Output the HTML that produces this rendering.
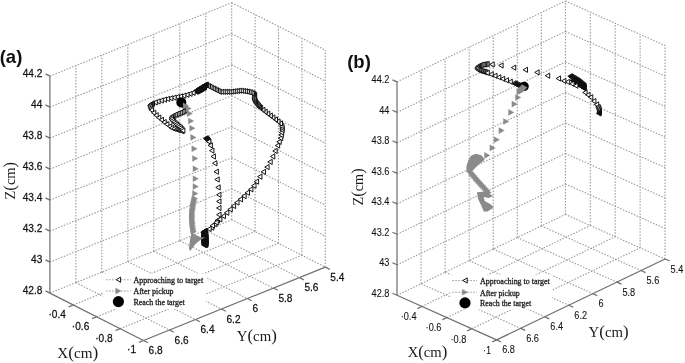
<!DOCTYPE html>
<html><head><meta charset="utf-8"><title>Trajectory plots</title>
<style>html,body{margin:0;padding:0;background:#fff;width:685px;height:363px;overflow:hidden}svg{display:block;filter:blur(0.3px)}</style>
</head><body>
<svg width="685" height="363" viewBox="0 0 685 363">
<style>.g{stroke:#9a9a9a;stroke-width:1.1;stroke-dasharray:1.5 1.5;fill:none}.a{stroke:#6e6e6e;stroke-width:1.2;fill:none}.ap{fill:#fff;stroke:#0a0a0a;stroke-width:0.95;stroke-linejoin:miter}.pk{fill:#8a8a8a;stroke:#8a8a8a;stroke-width:0.3}.t{font-family:"Liberation Sans",sans-serif;fill:#111;stroke:#111}.s{font-family:"Liberation Serif",serif;font-size:15.3px;fill:#1a1a1a}.lg{font-family:"Liberation Serif",serif;font-size:8.6px;fill:#1a1a1a;stroke:#1a1a1a;stroke-width:0.3px}.pp{font-size:17.5px}.lab{font-family:"Liberation Sans",sans-serif;font-size:18.5px;font-weight:bold;fill:#111}</style>
<defs><path id="tl" class="ap" d="M-2.2 0L2.2 -2.6L2.2 2.6Z"/><path id="tr" class="pk" d="M2.75 0L-2.75 -3.05L-2.75 3.05Z"/><path id="tb" d="M-2.2 0L2.2 -2.6L2.2 2.6Z" fill="#111" stroke="#111" stroke-width="0.7"/></defs>
<line x1="75.87" y1="282.61" x2="75.87" y2="65.61" class="g"/>
<line x1="101.84" y1="272.13" x2="101.84" y2="55.13" class="g"/>
<line x1="127.81" y1="261.64" x2="127.81" y2="44.64" class="g"/>
<line x1="153.78" y1="251.16" x2="153.78" y2="34.16" class="g"/>
<line x1="179.75" y1="240.67" x2="179.75" y2="23.67" class="g"/>
<line x1="205.72" y1="230.18" x2="205.72" y2="13.18" class="g"/>
<line x1="231.69" y1="219.7" x2="231.69" y2="2.7" class="g"/>
<line x1="49.9" y1="293.1" x2="231.69" y2="219.7" class="g"/>
<line x1="49.9" y1="262.1" x2="231.69" y2="188.7" class="g"/>
<line x1="49.9" y1="231.1" x2="231.69" y2="157.7" class="g"/>
<line x1="49.9" y1="200.1" x2="231.69" y2="126.7" class="g"/>
<line x1="49.9" y1="169.1" x2="231.69" y2="95.7" class="g"/>
<line x1="49.9" y1="138.1" x2="231.69" y2="64.7" class="g"/>
<line x1="49.9" y1="107.1" x2="231.69" y2="33.7" class="g"/>
<line x1="49.9" y1="76.1" x2="231.69" y2="2.7" class="g"/>
<line x1="255.09" y1="231.55" x2="255.09" y2="14.55" class="g"/>
<line x1="278.49" y1="243.4" x2="278.49" y2="26.4" class="g"/>
<line x1="301.89" y1="255.25" x2="301.89" y2="38.25" class="g"/>
<line x1="325.29" y1="267.1" x2="325.29" y2="50.1" class="g"/>
<line x1="231.69" y1="219.7" x2="325.29" y2="267.1" class="g"/>
<line x1="231.69" y1="188.7" x2="325.29" y2="236.1" class="g"/>
<line x1="231.69" y1="157.7" x2="325.29" y2="205.1" class="g"/>
<line x1="231.69" y1="126.7" x2="325.29" y2="174.1" class="g"/>
<line x1="231.69" y1="95.7" x2="325.29" y2="143.1" class="g"/>
<line x1="231.69" y1="64.7" x2="325.29" y2="112.1" class="g"/>
<line x1="231.69" y1="33.7" x2="325.29" y2="81.1" class="g"/>
<line x1="231.69" y1="2.7" x2="325.29" y2="50.1" class="g"/>
<line x1="73.3" y1="304.95" x2="255.09" y2="231.55" class="g"/>
<line x1="96.7" y1="316.8" x2="278.49" y2="243.4" class="g"/>
<line x1="120.1" y1="328.65" x2="301.89" y2="255.25" class="g"/>
<line x1="75.87" y1="282.61" x2="169.47" y2="330.01" class="g"/>
<line x1="101.84" y1="272.13" x2="195.44" y2="319.53" class="g"/>
<line x1="127.81" y1="261.64" x2="221.41" y2="309.04" class="g"/>
<line x1="153.78" y1="251.16" x2="247.38" y2="298.56" class="g"/>
<line x1="179.75" y1="240.67" x2="273.35" y2="288.07" class="g"/>
<line x1="205.72" y1="230.18" x2="299.32" y2="277.58" class="g"/>
<line x1="49.9" y1="293.1" x2="49.9" y2="76.1" class="a"/>
<line x1="49.9" y1="293.1" x2="143.5" y2="340.5" class="a"/>
<line x1="143.5" y1="340.5" x2="325.29" y2="267.1" class="a"/>
<line x1="49.9" y1="293.1" x2="45.44" y2="290.84" class="a"/>
<line x1="49.9" y1="262.1" x2="45.44" y2="259.84" class="a"/>
<line x1="49.9" y1="231.1" x2="45.44" y2="228.84" class="a"/>
<line x1="49.9" y1="200.1" x2="45.44" y2="197.84" class="a"/>
<line x1="49.9" y1="169.1" x2="45.44" y2="166.84" class="a"/>
<line x1="49.9" y1="138.1" x2="45.44" y2="135.84" class="a"/>
<line x1="49.9" y1="107.1" x2="45.44" y2="104.84" class="a"/>
<line x1="49.9" y1="76.1" x2="45.44" y2="73.84" class="a"/>
<line x1="73.3" y1="304.95" x2="68.66" y2="306.82" class="a"/>
<line x1="96.7" y1="316.8" x2="92.06" y2="318.67" class="a"/>
<line x1="120.1" y1="328.65" x2="115.46" y2="330.52" class="a"/>
<line x1="143.5" y1="340.5" x2="138.86" y2="342.37" class="a"/>
<line x1="143.5" y1="340.5" x2="147.96" y2="342.76" class="a"/>
<line x1="169.47" y1="330.01" x2="173.93" y2="332.27" class="a"/>
<line x1="195.44" y1="319.53" x2="199.9" y2="321.79" class="a"/>
<line x1="221.41" y1="309.04" x2="225.87" y2="311.3" class="a"/>
<line x1="247.38" y1="298.56" x2="251.84" y2="300.81" class="a"/>
<line x1="273.35" y1="288.07" x2="277.81" y2="290.33" class="a"/>
<line x1="299.32" y1="277.58" x2="303.78" y2="279.84" class="a"/>
<line x1="325.29" y1="267.1" x2="329.75" y2="269.36" class="a"/>
<line x1="421.06" y1="283.74" x2="421.06" y2="70.31" class="g"/>
<line x1="445.12" y1="272.19" x2="445.12" y2="58.76" class="g"/>
<line x1="469.18" y1="260.63" x2="469.18" y2="47.2" class="g"/>
<line x1="493.24" y1="249.07" x2="493.24" y2="35.64" class="g"/>
<line x1="517.3" y1="237.52" x2="517.3" y2="24.09" class="g"/>
<line x1="541.36" y1="225.96" x2="541.36" y2="12.53" class="g"/>
<line x1="565.42" y1="214.4" x2="565.42" y2="0.97" class="g"/>
<line x1="397" y1="295.3" x2="565.42" y2="214.4" class="g"/>
<line x1="397" y1="264.81" x2="565.42" y2="183.91" class="g"/>
<line x1="397" y1="234.32" x2="565.42" y2="153.42" class="g"/>
<line x1="397" y1="203.83" x2="565.42" y2="122.93" class="g"/>
<line x1="397" y1="173.34" x2="565.42" y2="92.44" class="g"/>
<line x1="397" y1="142.85" x2="565.42" y2="61.95" class="g"/>
<line x1="397" y1="112.36" x2="565.42" y2="31.46" class="g"/>
<line x1="397" y1="81.87" x2="565.42" y2="0.97" class="g"/>
<line x1="590.32" y1="225.55" x2="590.32" y2="12.12" class="g"/>
<line x1="615.22" y1="236.7" x2="615.22" y2="23.27" class="g"/>
<line x1="640.12" y1="247.85" x2="640.12" y2="34.42" class="g"/>
<line x1="665.02" y1="259" x2="665.02" y2="45.57" class="g"/>
<line x1="565.42" y1="214.4" x2="665.02" y2="259" class="g"/>
<line x1="565.42" y1="183.91" x2="665.02" y2="228.51" class="g"/>
<line x1="565.42" y1="153.42" x2="665.02" y2="198.02" class="g"/>
<line x1="565.42" y1="122.93" x2="665.02" y2="167.53" class="g"/>
<line x1="565.42" y1="92.44" x2="665.02" y2="137.04" class="g"/>
<line x1="565.42" y1="61.95" x2="665.02" y2="106.55" class="g"/>
<line x1="565.42" y1="31.46" x2="665.02" y2="76.06" class="g"/>
<line x1="565.42" y1="0.97" x2="665.02" y2="45.57" class="g"/>
<line x1="421.9" y1="306.45" x2="590.32" y2="225.55" class="g"/>
<line x1="446.8" y1="317.6" x2="615.22" y2="236.7" class="g"/>
<line x1="471.7" y1="328.75" x2="640.12" y2="247.85" class="g"/>
<line x1="421.06" y1="283.74" x2="520.66" y2="328.34" class="g"/>
<line x1="445.12" y1="272.19" x2="544.72" y2="316.79" class="g"/>
<line x1="469.18" y1="260.63" x2="568.78" y2="305.23" class="g"/>
<line x1="493.24" y1="249.07" x2="592.84" y2="293.67" class="g"/>
<line x1="517.3" y1="237.52" x2="616.9" y2="282.12" class="g"/>
<line x1="541.36" y1="225.96" x2="640.96" y2="270.56" class="g"/>
<line x1="397" y1="295.3" x2="397" y2="81.87" class="a"/>
<line x1="397" y1="295.3" x2="496.6" y2="339.9" class="a"/>
<line x1="496.6" y1="339.9" x2="665.02" y2="259" class="a"/>
<line x1="397" y1="295.3" x2="392.44" y2="293.26" class="a"/>
<line x1="397" y1="264.81" x2="392.44" y2="262.77" class="a"/>
<line x1="397" y1="234.32" x2="392.44" y2="232.28" class="a"/>
<line x1="397" y1="203.83" x2="392.44" y2="201.79" class="a"/>
<line x1="397" y1="173.34" x2="392.44" y2="171.3" class="a"/>
<line x1="397" y1="142.85" x2="392.44" y2="140.81" class="a"/>
<line x1="397" y1="112.36" x2="392.44" y2="110.32" class="a"/>
<line x1="397" y1="81.87" x2="392.44" y2="79.83" class="a"/>
<line x1="421.9" y1="306.45" x2="417.39" y2="308.61" class="a"/>
<line x1="446.8" y1="317.6" x2="442.29" y2="319.76" class="a"/>
<line x1="471.7" y1="328.75" x2="467.19" y2="330.91" class="a"/>
<line x1="496.6" y1="339.9" x2="492.09" y2="342.06" class="a"/>
<line x1="496.6" y1="339.9" x2="501.16" y2="341.94" class="a"/>
<line x1="520.66" y1="328.34" x2="525.22" y2="330.39" class="a"/>
<line x1="544.72" y1="316.79" x2="549.28" y2="318.83" class="a"/>
<line x1="568.78" y1="305.23" x2="573.34" y2="307.27" class="a"/>
<line x1="592.84" y1="293.67" x2="597.4" y2="295.72" class="a"/>
<line x1="616.9" y1="282.12" x2="621.46" y2="284.16" class="a"/>
<line x1="640.96" y1="270.56" x2="645.52" y2="272.6" class="a"/>
<line x1="665.02" y1="259" x2="669.58" y2="261.04" class="a"/>
<text class="t" font-size="11" stroke-width="0.25" transform="translate(42.34 293.84) scale(0.92 1)" text-anchor="end">42.8</text>
<text class="t" font-size="11" stroke-width="0.25" transform="translate(42.34 262.84) scale(0.92 1)" text-anchor="end">43</text>
<text class="t" font-size="11" stroke-width="0.25" transform="translate(42.34 231.84) scale(0.92 1)" text-anchor="end">43.2</text>
<text class="t" font-size="11" stroke-width="0.25" transform="translate(42.34 200.84) scale(0.92 1)" text-anchor="end">43.4</text>
<text class="t" font-size="11" stroke-width="0.25" transform="translate(42.34 169.84) scale(0.92 1)" text-anchor="end">43.6</text>
<text class="t" font-size="11" stroke-width="0.25" transform="translate(42.34 138.84) scale(0.92 1)" text-anchor="end">43.8</text>
<text class="t" font-size="11" stroke-width="0.25" transform="translate(42.34 107.84) scale(0.92 1)" text-anchor="end">44</text>
<text class="t" font-size="11" stroke-width="0.25" transform="translate(42.34 76.84) scale(0.92 1)" text-anchor="end">44.2</text>
<text class="t" font-size="10.2" stroke-width="0.08" transform="translate(389.44 296.66) scale(0.9 1)" text-anchor="end">42.8</text>
<text class="t" font-size="10.2" stroke-width="0.08" transform="translate(389.44 266.17) scale(0.9 1)" text-anchor="end">43</text>
<text class="t" font-size="10.2" stroke-width="0.08" transform="translate(389.44 235.68) scale(0.9 1)" text-anchor="end">43.2</text>
<text class="t" font-size="10.2" stroke-width="0.08" transform="translate(389.44 205.19) scale(0.9 1)" text-anchor="end">43.4</text>
<text class="t" font-size="10.2" stroke-width="0.08" transform="translate(389.44 174.7) scale(0.9 1)" text-anchor="end">43.6</text>
<text class="t" font-size="10.2" stroke-width="0.08" transform="translate(389.44 144.21) scale(0.9 1)" text-anchor="end">43.8</text>
<text class="t" font-size="10.2" stroke-width="0.08" transform="translate(389.44 113.72) scale(0.9 1)" text-anchor="end">44</text>
<text class="t" font-size="10.2" stroke-width="0.08" transform="translate(389.44 83.23) scale(0.9 1)" text-anchor="end">44.2</text>
<text class="t" font-size="11" stroke-width="0.25" transform="translate(65.86 317.82) scale(0.92 1)" text-anchor="end">·0.4</text>
<text class="t" font-size="11" stroke-width="0.25" transform="translate(89.26 329.67) scale(0.92 1)" text-anchor="end">·0.6</text>
<text class="t" font-size="11" stroke-width="0.25" transform="translate(112.66 341.52) scale(0.92 1)" text-anchor="end">·0.8</text>
<text class="t" font-size="11" stroke-width="0.25" transform="translate(136.06 353.37) scale(0.92 1)" text-anchor="end">·1</text>
<text class="t" font-size="10.2" stroke-width="0.08" transform="translate(416.49 320.31) scale(0.9 1)" text-anchor="end">·0.4</text>
<text class="t" font-size="10.2" stroke-width="0.08" transform="translate(441.39 331.46) scale(0.9 1)" text-anchor="end">·0.6</text>
<text class="t" font-size="10.2" stroke-width="0.08" transform="translate(466.29 342.61) scale(0.9 1)" text-anchor="end">·0.8</text>
<text class="t" font-size="10.2" stroke-width="0.08" transform="translate(491.19 353.76) scale(0.9 1)" text-anchor="end">·1</text>
<text class="t" font-size="11" stroke-width="0.25" transform="translate(148.56 354.26) scale(0.92 1)" text-anchor="start">6.8</text>
<text class="t" font-size="11" stroke-width="0.25" transform="translate(174.53 343.77) scale(0.92 1)" text-anchor="start">6.6</text>
<text class="t" font-size="11" stroke-width="0.25" transform="translate(200.5 333.29) scale(0.92 1)" text-anchor="start">6.4</text>
<text class="t" font-size="11" stroke-width="0.25" transform="translate(226.47 322.8) scale(0.92 1)" text-anchor="start">6.2</text>
<text class="t" font-size="11" stroke-width="0.25" transform="translate(252.44 312.31) scale(0.92 1)" text-anchor="start">6</text>
<text class="t" font-size="11" stroke-width="0.25" transform="translate(278.41 301.83) scale(0.92 1)" text-anchor="start">5.8</text>
<text class="t" font-size="11" stroke-width="0.25" transform="translate(304.38 291.34) scale(0.92 1)" text-anchor="start">5.6</text>
<text class="t" font-size="11" stroke-width="0.25" transform="translate(330.35 280.86) scale(0.92 1)" text-anchor="start">5.4</text>
<text class="t" font-size="10.2" stroke-width="0.08" transform="translate(502.16 353.44) scale(0.9 1)" text-anchor="start">6.8</text>
<text class="t" font-size="10.2" stroke-width="0.08" transform="translate(526.22 341.89) scale(0.9 1)" text-anchor="start">6.6</text>
<text class="t" font-size="10.2" stroke-width="0.08" transform="translate(550.28 330.33) scale(0.9 1)" text-anchor="start">6.4</text>
<text class="t" font-size="10.2" stroke-width="0.08" transform="translate(574.34 318.77) scale(0.9 1)" text-anchor="start">6.2</text>
<text class="t" font-size="10.2" stroke-width="0.08" transform="translate(598.4 307.22) scale(0.9 1)" text-anchor="start">6</text>
<text class="t" font-size="10.2" stroke-width="0.08" transform="translate(622.46 295.66) scale(0.9 1)" text-anchor="start">5.8</text>
<text class="t" font-size="10.2" stroke-width="0.08" transform="translate(646.52 284.1) scale(0.9 1)" text-anchor="start">5.6</text>
<text class="t" font-size="10.2" stroke-width="0.08" transform="translate(670.58 272.54) scale(0.9 1)" text-anchor="start">5.4</text>
<text class="s" x="57.2" y="358.4" textLength="41" lengthAdjust="spacingAndGlyphs">X<tspan class="pp">(</tspan>cm<tspan class="pp">)</tspan></text>
<text class="s" x="236.8" y="341" textLength="40" lengthAdjust="spacingAndGlyphs">Y<tspan class="pp">(</tspan>cm<tspan class="pp">)</tspan></text>
<text class="s" transform="translate(15.1 199.5) rotate(-90)" textLength="37.6" lengthAdjust="spacingAndGlyphs">Z<tspan class="pp">(</tspan>cm<tspan class="pp">)</tspan></text>
<text class="s" x="407.7" y="356.9" textLength="39.6" lengthAdjust="spacingAndGlyphs">X<tspan class="pp">(</tspan>cm<tspan class="pp">)</tspan></text>
<text class="s" x="588.6" y="336.9" textLength="40" lengthAdjust="spacingAndGlyphs">Y<tspan class="pp">(</tspan>cm<tspan class="pp">)</tspan></text>
<text class="s" transform="translate(362.9 205.4) rotate(-90)" textLength="37" lengthAdjust="spacingAndGlyphs">Z<tspan class="pp">(</tspan>cm<tspan class="pp">)</tspan></text>
<text class="lab" x="-0.3" y="62.8">(a)</text>
<text class="lab" x="347.2" y="67.6">(b)</text>
<rect x="103" y="273.5" width="103" height="35.5" fill="#fff"/>
<line x1="106.1" y1="279.7" x2="130.8" y2="279.7" class="g"/>
<use href="#tl" x="118.4" y="279.7"/>
<line x1="106.1" y1="291" x2="130.8" y2="291" class="g"/>
<use href="#tr" x="118.4" y="291"/>
<circle cx="118.4" cy="301.6" r="5.6" fill="#000"/>
<text class="lg" x="133.5" y="283" textLength="69.6" lengthAdjust="spacingAndGlyphs">Approaching to target</text>
<text class="lg" x="133.5" y="294.3" textLength="40" lengthAdjust="spacingAndGlyphs">After pickup</text>
<text class="lg" x="133.5" y="304.9" textLength="51.3" lengthAdjust="spacingAndGlyphs">Reach the target</text>
<rect x="450" y="274.5" width="102" height="35" fill="#fff"/>
<line x1="452.3" y1="280.5" x2="477" y2="280.5" class="g"/>
<use href="#tl" x="465" y="280.5"/>
<line x1="452.3" y1="292.2" x2="477" y2="292.2" class="g"/>
<use href="#tr" x="465" y="292.2"/>
<circle cx="465" cy="302.9" r="5.6" fill="#000"/>
<text class="lg" x="480" y="283.8" textLength="69.8" lengthAdjust="spacingAndGlyphs">Approaching to target</text>
<text class="lg" x="480" y="295.5" textLength="39.7" lengthAdjust="spacingAndGlyphs">After pickup</text>
<text class="lg" x="480" y="306.2" textLength="51.1" lengthAdjust="spacingAndGlyphs">Reach the target</text>
<use href="#tb" x="205.6" y="138.3"/><use href="#tb" x="206.06" y="138.69"/><use href="#tb" x="206.51" y="139.08"/><use href="#tb" x="206.97" y="139.47"/><use href="#tb" x="207.36" y="139.93"/><use href="#tb" x="207.74" y="140.38"/><use href="#tb" x="208.13" y="140.84"/><use href="#tb" x="208.52" y="141.3"/><use href="#tl" x="208.6" y="141.6"/><use href="#tl" x="210.2" y="145.4"/><use href="#tl" x="211.7" y="150.6"/><use href="#tl" x="213.2" y="156.5"/><use href="#tl" x="214.7" y="163.3"/><use href="#tl" x="216.2" y="171.7"/><use href="#tl" x="217" y="179.5"/><use href="#tl" x="218" y="187.4"/><use href="#tl" x="218.8" y="194.8"/><use href="#tl" x="218.8" y="201.4"/><use href="#tl" x="218.8" y="208"/><use href="#tl" x="218.8" y="214.7"/><use href="#tl" x="217.3" y="220.3"/><use href="#tl" x="214.7" y="224.2"/><use href="#tl" x="211.6" y="227.6"/><use href="#tb" x="205.5" y="231"/><use href="#tb" x="204.92" y="231.15"/><use href="#tb" x="204.34" y="231.29"/><use href="#tb" x="203.75" y="231.44"/><use href="#tb" x="203.48" y="231.84"/><use href="#tb" x="203.44" y="232.44"/><use href="#tb" x="203.4" y="233.04"/><use href="#tb" x="203.36" y="233.63"/><use href="#tb" x="203.32" y="234.23"/><use href="#tb" x="203.28" y="234.83"/><use href="#tb" x="203.24" y="235.43"/><use href="#tb" x="203.2" y="236.03"/><use href="#tb" x="203.21" y="236.63"/><use href="#tb" x="203.22" y="237.23"/><use href="#tb" x="203.24" y="237.83"/><use href="#tb" x="203.25" y="238.43"/><use href="#tb" x="203.26" y="239.03"/><use href="#tb" x="203.27" y="239.63"/><use href="#tb" x="203.28" y="240.23"/><use href="#tb" x="203.3" y="240.83"/><use href="#tb" x="203.35" y="241.42"/><use href="#tb" x="203.43" y="242.02"/><use href="#tb" x="203.5" y="242.61"/><use href="#tb" x="203.58" y="243.21"/><use href="#tb" x="203.65" y="243.81"/><use href="#tb" x="203.73" y="244.4"/><use href="#tb" x="203.8" y="245"/><use href="#tb" x="204.39" y="244.94"/><use href="#tb" x="204.99" y="244.88"/><use href="#tb" x="205.59" y="244.82"/><use href="#tb" x="205.8" y="244.41"/><use href="#tb" x="205.8" y="243.81"/><use href="#tb" x="205.8" y="243.21"/><use href="#tb" x="205.8" y="242.61"/><use href="#tb" x="205.8" y="242.01"/><use href="#tb" x="205.8" y="241.41"/><use href="#tb" x="205.8" y="240.81"/><use href="#tb" x="205.8" y="240.21"/><use href="#tb" x="205.78" y="239.61"/><use href="#tb" x="205.75" y="239.01"/><use href="#tb" x="205.72" y="238.42"/><use href="#tb" x="205.69" y="237.82"/><use href="#tb" x="205.66" y="237.22"/><use href="#tb" x="205.63" y="236.62"/><use href="#tb" x="205.6" y="236.02"/><use href="#tb" x="205.57" y="235.42"/><use href="#tb" x="205.54" y="234.82"/><use href="#tb" x="205.51" y="234.22"/><use href="#tb" x="205.23" y="233.73"/><use href="#tb" x="204.81" y="233.31"/><use href="#tl" x="209" y="229"/><use href="#tl" x="212.39" y="225.61"/><use href="#tl" x="216.05" y="222.5"/><use href="#tl" x="219.67" y="219.35"/><use href="#tl" x="223.25" y="216.15"/><use href="#tl" x="226.64" y="212.76"/><use href="#tl" x="230.04" y="209.36"/><use href="#tl" x="233.43" y="205.97"/><use href="#tl" x="236.83" y="202.57"/><use href="#tl" x="240.37" y="199.34"/><use href="#tl" x="243.91" y="196.09"/><use href="#tl" x="247.33" y="192.73"/><use href="#tl" x="250.73" y="189.34"/><use href="#tl" x="253.8" y="185.66"/><use href="#tl" x="256.38" y="181.61"/><use href="#tl" x="259.76" y="176.66"/><use href="#tl" x="263.34" y="171.85"/><use href="#tl" x="266.94" y="167.06"/><use href="#tl" x="269.99" y="161.9"/><use href="#tl" x="272.58" y="156.49"/><use href="#tl" x="275" y="151"/><use href="#tl" x="277.47" y="145.53"/><use href="#tl" x="279.02" y="141.84"/><use href="#tl" x="280.54" y="138.14"/><use href="#tl" x="281.13" y="135"/><use href="#tl" x="281.55" y="132.53"/><use href="#tl" x="281.92" y="130.06"/><use href="#tl" x="281.97" y="128.09"/><use href="#tl" x="281.67" y="126.11"/><use href="#tl" x="280.27" y="123.46"/><use href="#tl" x="277.8" y="121.43"/><use href="#tl" x="275.28" y="119.46"/><use href="#tl" x="272.72" y="117.54"/><use href="#tl" x="270.16" y="115.62"/><use href="#tl" x="267.6" y="113.69"/><use href="#tl" x="265.05" y="111.76"/><use href="#tl" x="262.74" y="109.84"/><use href="#tl" x="260.46" y="107.9"/><use href="#tl" x="259.35" y="107.18"/><use href="#tl" x="258.53" y="106.17"/><use href="#tl" x="257.71" y="105.16"/><use href="#tl" x="256.89" y="104.15"/><use href="#tl" x="256.07" y="103.14"/><use href="#tl" x="255.34" y="102.31"/><use href="#tl" x="254.98" y="101.27"/><use href="#tl" x="254.63" y="100.23"/><use href="#tl" x="254.27" y="99.19"/><use href="#tl" x="254.05" y="98.14"/><use href="#tl" x="254.24" y="97.05"/><use href="#tl" x="254.43" y="95.97"/><use href="#tl" x="254.35" y="94.81"/><use href="#tl" x="253.32" y="94.01"/><use href="#tl" x="252.29" y="93.21"/><use href="#tl" x="250.72" y="92.43"/><use href="#tl" x="248.96" y="92.05"/><use href="#tl" x="247.2" y="91.67"/><use href="#tl" x="245.44" y="91.3"/><use href="#tl" x="243.46" y="91.02"/><use href="#tl" x="241.48" y="90.79"/><use href="#tl" x="239.49" y="90.64"/><use href="#tl" x="237.5" y="90.88"/><use href="#tl" x="235.52" y="91.12"/><use href="#tl" x="233.53" y="91.37"/><use href="#tl" x="231.55" y="91.61"/><use href="#tl" x="229.56" y="91.8"/><use href="#tl" x="227.56" y="91.8"/><use href="#tl" x="225.56" y="91.8"/><use href="#tl" x="223.56" y="91.8"/><use href="#tl" x="221.56" y="91.8"/><use href="#tl" x="219.56" y="91.8"/><use href="#tl" x="217.95" y="91.01"/><use href="#tl" x="216.34" y="90.2"/><use href="#tl" x="214.74" y="89.39"/><use href="#tl" x="213.13" y="88.57"/><use href="#tl" x="211.52" y="87.76"/><use href="#tl" x="209.91" y="86.96"/><use href="#tl" x="208.3" y="86.15"/><use href="#tl" x="206.69" y="85.35"/><use href="#tb" x="206.14" y="84.49"/><use href="#tb" x="205.62" y="84.79"/><use href="#tb" x="205.1" y="85.09"/><use href="#tb" x="204.58" y="85.38"/><use href="#tb" x="204.06" y="85.68"/><use href="#tb" x="203.54" y="85.98"/><use href="#tb" x="203.02" y="86.28"/><use href="#tb" x="202.5" y="86.57"/><use href="#tb" x="201.97" y="86.87"/><use href="#tb" x="201.45" y="87.17"/><use href="#tb" x="200.93" y="87.47"/><use href="#tb" x="200.41" y="87.76"/><use href="#tb" x="199.89" y="88.07"/><use href="#tb" x="199.4" y="88.4"/><use href="#tb" x="198.9" y="88.74"/><use href="#tb" x="198.4" y="89.07"/><use href="#tb" x="197.9" y="89.4"/><use href="#tb" x="197.4" y="89.73"/><use href="#tb" x="196.9" y="90.07"/><use href="#tb" x="196.4" y="90.4"/><use href="#tb" x="195.9" y="90.73"/><use href="#tb" x="195.61" y="90.97"/><use href="#tb" x="196.19" y="90.79"/><use href="#tb" x="196.76" y="90.62"/><use href="#tb" x="197.34" y="90.45"/><use href="#tb" x="197.91" y="90.28"/><use href="#tb" x="198.49" y="90.1"/><use href="#tb" x="199.06" y="89.93"/><use href="#tb" x="199.62" y="89.73"/><use href="#tb" x="200.14" y="89.42"/><use href="#tb" x="200.65" y="89.11"/><use href="#tb" x="201.17" y="88.8"/><use href="#tb" x="201.68" y="88.49"/><use href="#tb" x="202.19" y="88.18"/><use href="#tb" x="202.71" y="87.87"/><use href="#tb" x="203.22" y="87.57"/><use href="#tb" x="203.74" y="87.26"/><use href="#tb" x="204.25" y="86.95"/><use href="#tb" x="204.23" y="86.96"/><use href="#tb" x="203.72" y="87.27"/><use href="#tb" x="203.2" y="87.58"/><use href="#tb" x="202.69" y="87.89"/><use href="#tb" x="202.18" y="88.19"/><use href="#tb" x="201.66" y="88.5"/><use href="#tb" x="201.15" y="88.81"/><use href="#tb" x="200.63" y="89.12"/><use href="#tb" x="200.12" y="89.43"/><use href="#tb" x="199.6" y="89.72"/><use href="#tb" x="199.07" y="90.02"/><use href="#tb" x="198.55" y="90.31"/><use href="#tb" x="198.02" y="90.6"/><use href="#tb" x="197.5" y="90.89"/><use href="#tb" x="196.97" y="91.18"/><use href="#tb" x="196.45" y="91.47"/><use href="#tb" x="195.92" y="91.76"/><use href="#tl" x="192.92" y="92.84"/><use href="#tl" x="189.87" y="93.82"/><use href="#tl" x="186.83" y="94.81"/><use href="#tl" x="183.65" y="95.67"/><use href="#tl" x="180.41" y="96.32"/><use href="#tl" x="177.18" y="96.96"/><use href="#tl" x="173.94" y="97.61"/><use href="#tl" x="170.7" y="98.26"/><use href="#tl" x="167.47" y="98.91"/><use href="#tl" x="164.25" y="99.62"/><use href="#tl" x="161.08" y="100.53"/><use href="#tl" x="157.91" y="101.45"/><use href="#tl" x="155.07" y="102.41"/><use href="#tl" x="152.33" y="103.62"/><use href="#tl" x="151.2" y="104.06"/><use href="#tl" x="150.23" y="104.75"/><use href="#tl" x="149.75" y="105.61"/><use href="#tl" x="150.15" y="106.74"/><use href="#tl" x="150.56" y="107.87"/><use href="#tl" x="150.96" y="108.99"/><use href="#tl" x="151.37" y="110.12"/><use href="#tl" x="153.61" y="112.78"/><use href="#tl" x="156.05" y="115.28"/><use href="#tl" x="158.62" y="117.65"/><use href="#tl" x="161.32" y="119.88"/><use href="#tl" x="164.03" y="122.09"/><use href="#tl" x="166.74" y="124.3"/><use href="#tl" x="169.56" y="126.38"/><use href="#tl" x="171.54" y="127.95"/><use href="#tl" x="173.92" y="128.72"/><use href="#tl" x="176.29" y="129.5"/><use href="#tl" x="177.74" y="129.88"/><use href="#tl" x="179.2" y="130.23"/><use href="#tl" x="180.66" y="130.59"/><use href="#tl" x="181.76" y="131.06"/><use href="#tl" x="181.5" y="103.5"/><use href="#tl" x="182.46" y="104.78"/><use href="#tl" x="183.41" y="106.07"/><use href="#tl" x="184.34" y="107.37"/><use href="#tl" x="185.27" y="108.67"/><use href="#tl" x="184.67" y="110.12"/><use href="#tl" x="183.49" y="111.43"/><use href="#tl" x="181.82" y="112.12"/><use href="#tl" x="180.16" y="112.81"/><use href="#tl" x="178.49" y="113.47"/><use href="#tl" x="176.81" y="114.13"/><use href="#tl" x="175.16" y="114.83"/><use href="#tl" x="173.57" y="115.67"/><use href="#tl" x="172.08" y="116.35"/><use href="#tl" x="171.36" y="117.78"/><use href="#tl" x="171.29" y="119.24"/><use href="#tl" x="172.29" y="120.69"/><use href="#tl" x="173.56" y="121.96"/><use href="#tl" x="174.85" y="123.22"/><use href="#tl" x="176.22" y="124.39"/><use href="#tl" x="177.59" y="125.55"/><use href="#tl" x="178.95" y="126.73"/><use href="#tl" x="180.28" y="127.95"/><use href="#tl" x="181.6" y="129.17"/><use href="#tl" x="182.68" y="130.55"/>
<circle cx="181.3" cy="102.4" r="5" fill="#000"/>
<use href="#tr" x="185.8" y="105.8"/><use href="#tr" x="188.6" y="108.6"/><use href="#tr" x="189.9" y="113.6"/><use href="#tr" x="191.1" y="121"/><use href="#tr" x="192.4" y="128.2"/><use href="#tr" x="193.4" y="137.4"/><use href="#tr" x="194.5" y="148.8"/><use href="#tr" x="195.2" y="158.5"/><use href="#tr" x="195.7" y="168.8"/><use href="#tr" x="195.7" y="178.7"/><use href="#tr" x="195.7" y="186.6"/><use href="#tr" x="195.2" y="193.6"/><use href="#tr" x="194.8" y="198.5"/><use href="#tr" x="194.46" y="200.06"/><use href="#tr" x="194.13" y="201.63"/><use href="#tr" x="193.79" y="203.19"/><use href="#tr" x="193.45" y="204.76"/><use href="#tr" x="193.21" y="206.34"/><use href="#tr" x="192.98" y="207.92"/><use href="#tr" x="192.76" y="209.51"/><use href="#tr" x="192.53" y="211.09"/><use href="#tr" x="192.39" y="212.68"/><use href="#tr" x="192.37" y="214.28"/><use href="#tr" x="192.34" y="215.88"/><use href="#tr" x="192.32" y="217.48"/><use href="#tr" x="192.31" y="219.08"/><use href="#tr" x="192.42" y="220.67"/><use href="#tr" x="192.53" y="222.27"/><use href="#tr" x="192.65" y="223.87"/><use href="#tr" x="192.76" y="225.46"/><use href="#tr" x="192.97" y="227.05"/><use href="#tr" x="193.24" y="228.63"/><use href="#tr" x="193.5" y="230.2"/><use href="#tr" x="193.76" y="231.78"/>
<polygon points="192,233 197,235.5 201,237.3 205.5,237.5 201,239.5 196,243.5 192,248.5 190.3,251 189,249 189.5,243 190.5,237" fill="#8a8a8a"/>
<use href="#tl" x="487" y="64"/><use href="#tl" x="485.71" y="64.18"/><use href="#tl" x="484.43" y="64.36"/><use href="#tl" x="483.14" y="64.54"/><use href="#tl" x="481.86" y="64.76"/><use href="#tl" x="480.65" y="65.24"/><use href="#tl" x="479.45" y="65.72"/><use href="#tl" x="478.24" y="66.2"/><use href="#tl" x="477.4" y="67.15"/><use href="#tl" x="476.93" y="68.22"/><use href="#tl" x="477.6" y="69.34"/><use href="#tl" x="478.5" y="70.16"/><use href="#tl" x="479.74" y="70.57"/><use href="#tl" x="480.98" y="70.97"/><use href="#tl" x="482.21" y="71.37"/><use href="#tl" x="483.46" y="71.74"/><use href="#tl" x="484.7" y="72.12"/><use href="#tl" x="485.95" y="72.5"/><use href="#tl" x="487.19" y="72.88"/><use href="#tl" x="491.02" y="74.34"/><use href="#tl" x="494.84" y="75.83"/><use href="#tl" x="498.66" y="77.32"/><use href="#tl" x="502.48" y="78.81"/><use href="#tl" x="506.3" y="80.3"/><use href="#tl" x="510.12" y="81.79"/><use href="#tl" x="513.94" y="83.28"/><use href="#tb" x="514.85" y="83.68"/><use href="#tb" x="515.75" y="84.12"/><use href="#tb" x="516.64" y="84.57"/><use href="#tb" x="517.54" y="85.02"/><use href="#tb" x="518.43" y="85.47"/><use href="#tb" x="519.33" y="85.91"/><use href="#tb" x="520.22" y="86.36"/><use href="#tl" x="492" y="64.4"/><use href="#tl" x="500.9" y="65.5"/><use href="#tl" x="513.5" y="67.6"/><use href="#tl" x="525.3" y="69.8"/><use href="#tl" x="536.9" y="72.4"/><use href="#tl" x="547.5" y="75.7"/><use href="#tl" x="558.4" y="78.5"/><use href="#tb" x="570" y="76.2"/><use href="#tb" x="570.6" y="76.56"/><use href="#tb" x="571.2" y="76.92"/><use href="#tb" x="571.8" y="77.28"/><use href="#tb" x="572.4" y="77.64"/><use href="#tb" x="573" y="78"/><use href="#tb" x="573.6" y="78.36"/><use href="#tb" x="574.2" y="78.72"/><use href="#tb" x="574.8" y="79.08"/><use href="#tb" x="575.4" y="79.44"/><use href="#tb" x="576" y="79.8"/><use href="#tb" x="576.6" y="80.16"/><use href="#tb" x="577.2" y="80.52"/><use href="#tb" x="577.8" y="80.88"/><use href="#tb" x="578.36" y="81.3"/><use href="#tb" x="578.9" y="81.75"/><use href="#tb" x="579.44" y="82.2"/><use href="#tb" x="579.97" y="82.65"/><use href="#tb" x="580.51" y="83.09"/><use href="#tb" x="581.05" y="83.54"/><use href="#tb" x="581.59" y="83.99"/><use href="#tb" x="582.13" y="84.44"/><use href="#tb" x="582.66" y="84.89"/><use href="#tb" x="583.2" y="85.33"/><use href="#tb" x="583.74" y="85.78"/><use href="#tb" x="584" y="86.36"/><use href="#tb" x="584" y="87.06"/><use href="#tb" x="584" y="87.76"/><use href="#tb" x="583.87" y="88.21"/><use href="#tb" x="583.28" y="87.83"/><use href="#tb" x="582.7" y="87.44"/><use href="#tb" x="582.11" y="87.05"/><use href="#tb" x="581.53" y="86.67"/><use href="#tb" x="580.95" y="86.28"/><use href="#tb" x="580.36" y="85.9"/><use href="#tb" x="579.78" y="85.51"/><use href="#tb" x="579.19" y="85.13"/><use href="#tb" x="578.62" y="84.73"/><use href="#tb" x="578.05" y="84.32"/><use href="#tb" x="577.48" y="83.91"/><use href="#tb" x="576.91" y="83.51"/><use href="#tb" x="576.34" y="83.1"/><use href="#tb" x="575.77" y="82.69"/><use href="#tb" x="575.2" y="82.29"/><use href="#tb" x="574.63" y="81.88"/><use href="#tb" x="574.06" y="81.47"/><use href="#tb" x="573.49" y="81.07"/><use href="#tb" x="572.92" y="80.66"/><use href="#tb" x="572.35" y="80.25"/><use href="#tl" x="563.7" y="80.9"/><use href="#tl" x="567.5" y="81.9"/><use href="#tl" x="571.9" y="83.8"/><use href="#tl" x="575.7" y="85.7"/><use href="#tl" x="584.9" y="92.5"/><use href="#tl" x="587.8" y="94.9"/><use href="#tl" x="590.6" y="97.2"/><use href="#tl" x="593.7" y="101.1"/><use href="#tl" x="596.5" y="104.5"/><use href="#tl" x="597.9" y="107"/><use href="#tl" x="598.38" y="108.1"/><use href="#tl" x="598.87" y="109.2"/><use href="#tl" x="599.06" y="110.37"/><use href="#tl" x="599.14" y="111.56"/><use href="#tb" x="599.32" y="112.3"/><use href="#tb" x="598.96" y="112.9"/><use href="#tb" x="598.6" y="113.5"/>
<circle cx="524.1" cy="86.4" r="4.7" fill="#000"/>
<use href="#tr" x="524.5" y="87.5"/><use href="#tr" x="523.65" y="88.35"/><use href="#tr" x="522.8" y="89.2"/><use href="#tr" x="521.95" y="90.05"/><use href="#tr" x="521.11" y="90.89"/><use href="#tr" x="520.26" y="91.74"/><use href="#tr" x="519.5" y="91.5"/><use href="#tr" x="518.2" y="97.5"/><use href="#tr" x="514.6" y="104.1"/><use href="#tr" x="511.2" y="112.4"/><use href="#tr" x="506.2" y="121.5"/><use href="#tr" x="501.6" y="130.6"/><use href="#tr" x="496.8" y="139.7"/><use href="#tr" x="492.6" y="147.9"/><use href="#tr" x="487.2" y="155.4"/><use href="#tr" x="471.5" y="172.5"/><use href="#tr" x="472.89" y="174.2"/><use href="#tr" x="474.29" y="175.91"/><use href="#tr" x="475.68" y="177.61"/><use href="#tr" x="477.14" y="179.25"/><use href="#tr" x="478.62" y="180.88"/><use href="#tr" x="480.1" y="182.51"/><use href="#tr" x="481.58" y="184.14"/><use href="#tr" x="483.06" y="185.76"/><use href="#tr" x="484.54" y="187.39"/><use href="#tr" x="486.02" y="189.02"/><use href="#tr" x="487.37" y="190.76"/><use href="#tr" x="488.72" y="192.49"/>
<polygon points="476,153.7 481.8,155.6 484.7,159.5 482.8,161.4 478.9,164.3 473.2,170.1 470.3,173.9 466.4,172 466.4,166.2 468.3,160.4 471.2,155.6" fill="#8a8a8a"/>
<polygon points="477,192.3 485.7,191.4 493.4,196.1 488.6,198.1 483.8,197.1 484.7,201 491.5,204.8 493.4,207.7 487.6,211.6 483.8,211.6 480.9,204.8 478,199" fill="#8a8a8a"/>
</svg>
</body></html>
